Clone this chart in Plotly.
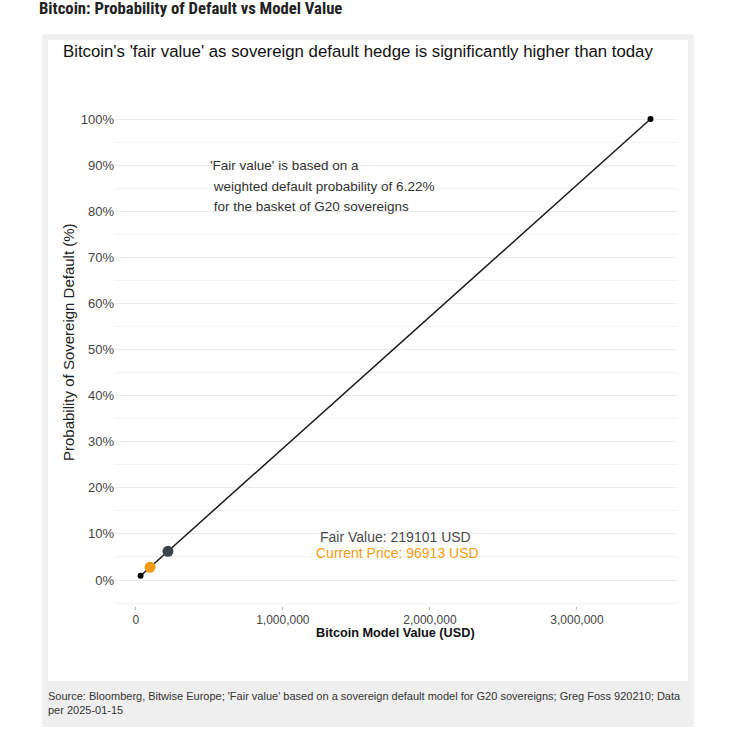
import plotly.graph_objects as go

# model line: bitcoin value vs probability of sovereign default
curve_value = [33000, 3500000]
curve_prob = [0.93, 100]

fair_value = 219101
fair_prob = 6.22
current_price = 96913
current_prob = 2.76

y_ticks = [0, 10, 20, 30, 40, 50, 60, 70, 80, 90, 100]
y_labels = ["%d%%" % v for v in y_ticks]
x_ticks = [0, 1000000, 2000000, 3000000]

note_lines = [
    "'Fair value' is based on a",
    " weighted default probability of 6.22%",
    " for the basket of G20 sovereigns",
]

# pixel -> paper helpers (plot area 115..677 x 96..606)
L, R, T, B = 115, 73, 96, 144
W, H = 750, 750
PW, PH = W - L - R, H - T - B


def px(x):
    return (x - L) / PW


def py(y):
    return (H - B - y) / PH


font = "Liberation Sans, Arial, sans-serif"
narrow = "Liberation Sans Narrow, Roboto Condensed, Liberation Sans, sans-serif"

fig = go.Figure()

fig.add_trace(go.Scatter(
    x=curve_value, y=curve_prob,
    mode='lines+markers',
    line=dict(color='#1a1a1a', width=1.5),
    marker=dict(size=6, color='#000000'),
    showlegend=False, hoverinfo='skip', cliponaxis=False
))

fig.add_trace(go.Scatter(
    x=[current_price], y=[current_prob],
    mode='markers',
    marker=dict(size=11, color='#F39C12'),
    showlegend=False
))

fig.add_trace(go.Scatter(
    x=[fair_value], y=[fair_prob],
    mode='markers',
    marker=dict(size=11, color='#3D4449'),
    showlegend=False
))

shapes = [
    # card background
    dict(type='rect', xref='paper', yref='paper', layer='below',
         x0=px(42), x1=px(694), y0=py(727), y1=py(34),
         fillcolor='#efefef', line=dict(width=0)),
    dict(type='rect', xref='paper', yref='paper', layer='below',
         x0=px(48), x1=px(688), y0=py(681), y1=py(40),
         fillcolor='white', line=dict(width=0)),
]

annotations = [
    dict(text="<b>Bitcoin: Probability of Default vs Model Value</b>",
         x=px(37), y=py(9), xanchor='left', yanchor='middle',
         font=dict(family=narrow, size=16.7, color='#222')),
    dict(text="Bitcoin's 'fair value' as sovereign default hedge is significantly higher than today",
         x=px(61), y=py(51), xanchor='left', yanchor='middle',
         font=dict(family=font, size=16.8, color='#111')),
    dict(text="Probability of Sovereign Default (%)",
         x=px(68), y=py(342), xanchor='center', yanchor='middle', textangle=-90,
         font=dict(family=font, size=15, color='#222')),
    dict(text="<b>Bitcoin Model Value (USD)</b>",
         x=px(395), y=py(633), xanchor='center', yanchor='middle',
         font=dict(family=font, size=12.7, color='#111')),
    dict(text="Fair Value: %d USD" % fair_value,
         x=px(395), y=py(537), xanchor='center', yanchor='middle',
         font=dict(family=font, size=14, color='#4a4a4a')),
    dict(text="Current Price: %d USD" % current_price,
         x=px(397), y=py(553), xanchor='center', yanchor='middle',
         font=dict(family=font, size=14, color='#F39C12')),
    dict(text="Source: Bloomberg, Bitwise Europe; 'Fair value' based on a sovereign default model for G20 sovereigns; Greg Foss 920210; Data<br>per 2025-01-15",
         x=px(46), y=py(688), xanchor='left', yanchor='top', align='left',
         font=dict(family=font, size=11, color='#333')),
]

for i, line in enumerate(note_lines):
    annotations.append(dict(
        text=line.replace(" ", "&nbsp;", 1) if line.startswith(" ") else line,
        x=px(208), y=py(166 + 20 * i), xanchor='left', yanchor='middle',
        font=dict(family=font, size=13.5, color='#333')))

for a in annotations:
    a.update(xref='paper', yref='paper', showarrow=False)

fig.update_layout(
    width=W, height=H,
    margin=dict(l=L, r=R, t=T, b=B),
    paper_bgcolor='white',
    plot_bgcolor='rgba(0,0,0,0)',
    font=dict(family=font),
    shapes=shapes,
    annotations=annotations,
    xaxis=dict(
        range=[-141000, 3680000],
        tickvals=x_ticks, tickformat=',',
        showgrid=False, zeroline=False, showline=False,
        ticks='outside', ticklen=3, tickcolor='#bbbbbb',
        tickfont=dict(size=12, color='#444'),
    ),
    yaxis=dict(
        range=[-5.64, 105],
        tickvals=y_ticks, ticktext=y_labels,
        showgrid=True, gridcolor='#ebebeb', gridwidth=1,
        minor=dict(dtick=5, tick0=0, showgrid=True, gridcolor='#f3f3f3', gridwidth=1),
        zeroline=False, showline=False, ticks='',
        tickfont=dict(size=13, color='#444'),
    ),
)

fig.write_html("out.html", config={'displayModeBar': False},
               post_script="document.body.style.margin='0px';")
